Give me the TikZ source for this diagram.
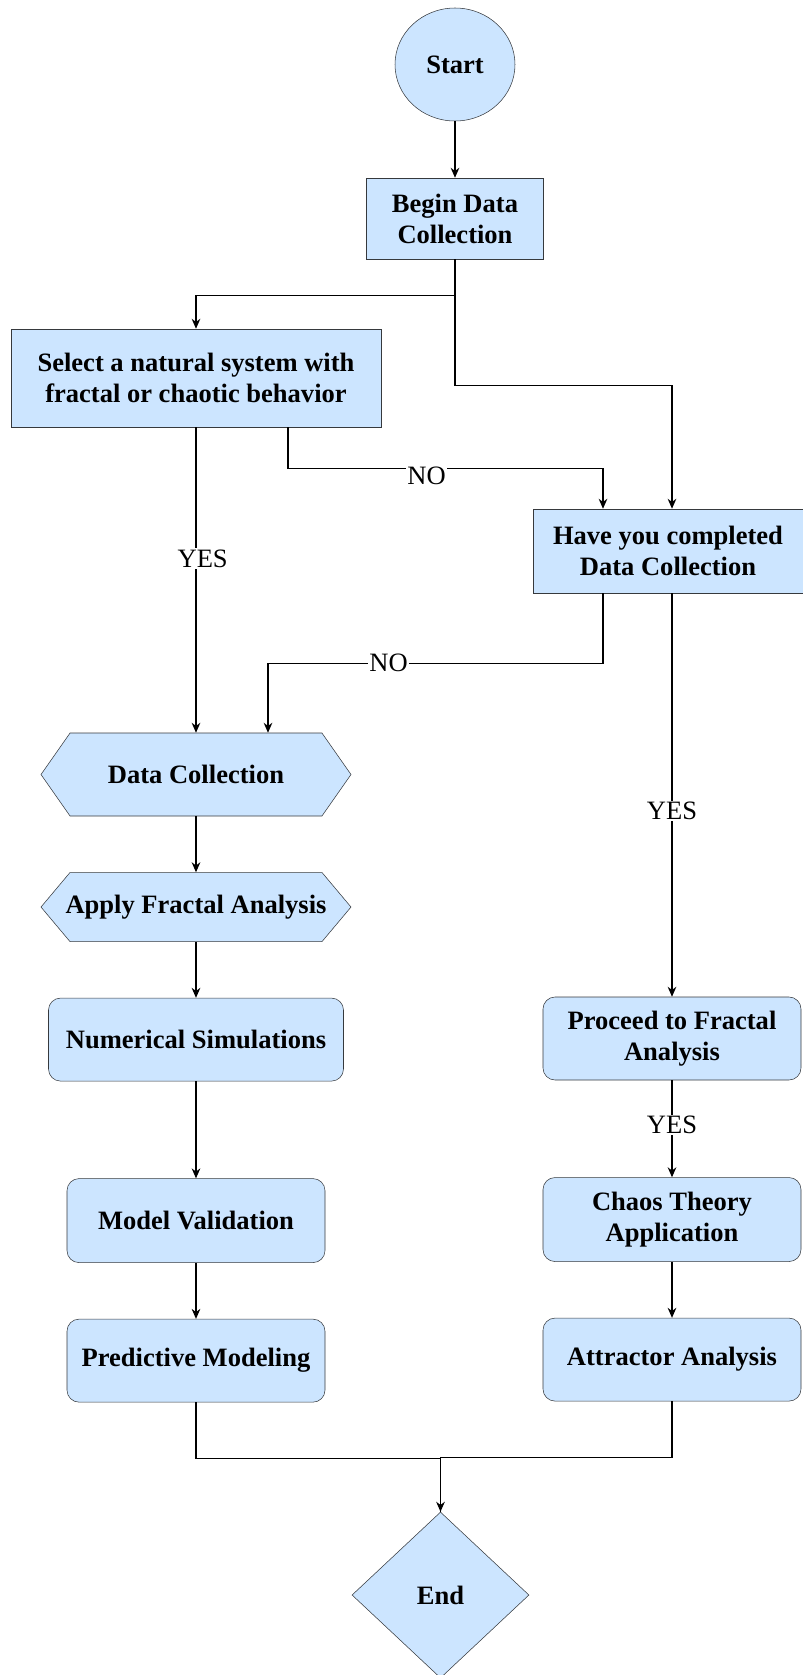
\documentclass[tikz,border=0pt]{standalone}
\usepackage{fontspec}
\setmainfont{Liberation Serif}
\usepackage{tikz}
\usetikzlibrary{arrows.meta,positioning,shapes.geometric,shapes.symbols}
\definecolor{boxfill}{RGB}{204,229,255}
\definecolor{boxline}{RGB}{54,57,61}

\begin{document}
\begin{tikzpicture}[x=0.75pt,y=-0.75pt,node distance=42pt,
    every node/.style={font=\fontsize{19.9}{23.3}\selectfont},
    base/.style={draw=boxline,fill=boxfill,align=center,inner sep=2pt,
                 font=\fontsize{19.9}{23.3}\selectfont\bfseries},
    sqbox/.style={base,rectangle,minimum width=#1,minimum height=60.75pt},
    rbox/.style={base,rectangle,rounded corners=9pt,minimum width=#1,minimum height=62.25pt},
    hexa/.style={base,signal,signal to=west and east,minimum width=232.5pt},
    lbl/.style={fill=white,inner sep=1pt},
    arr/.style={-{Stealth[length=7.5pt,width=6.5pt]},line width=0.9pt}]
  \useasboundingbox (0,0) rectangle (803,1675);

  % top part
  \node[base,ellipse,minimum width=90pt,minimum height=84.75pt,inner sep=0pt] (start) at (455,64.5) {Start};
  \node[sqbox=132.75pt] (begin) at (455,218.5) {Begin Data\\Collection};
  \node[sqbox=277.5pt,minimum height=73.5pt] (sel) at (196,378) {Select a natural system with\\fractal or chaotic behavior};
  \node[sqbox=202.5pt,minimum height=63pt] (have) at (668,551) {Have you completed\\Data Collection};

  % left column
  \node[hexa,minimum height=62.25pt,signal pointer angle=110] (dc) at (196,774.5) {\makebox[0pt]{Data Collection}};
  \node[hexa,minimum height=51.75pt,signal pointer angle=100,below=of dc] (afa) {\makebox[0pt]{Apply Fractal Analysis}};
  \node[rbox=221.25pt,below=of afa] (num) {Numerical Simulations};
  \node[rbox=193.5pt,minimum height=63pt,below=72.75pt of num] (mv) {Model Validation};
  \node[rbox=193.5pt,below=of mv] (pm) {Predictive Modeling};

  % right column
  \node[rbox=193.5pt] (proc) at (672,1038.5) {Proceed to Fractal\\Analysis};
  \node[rbox=193.5pt,minimum height=63pt,below=72.75pt of proc] (chaos) {Chaos Theory\\Application};
  \node[rbox=193.5pt,below=of chaos] (attr) {Attractor Analysis};

  \node[base,diamond,minimum width=132.75pt,minimum height=124.5pt,inner sep=0pt] (end) at (440.5,1595) {End};

  % connectors
  \draw[arr] (start) -- (begin);
  \draw[arr] (begin.south) -- ++(0,36) -| (sel.north);
  \draw[arr] (begin.south) -- ++(0,126) -| ([xshift=3pt]have.north);
  \draw[arr] ([xshift=69pt]sel.south) -- ++(0,41)
       -| node[lbl,pos=0.22,yshift=-6pt]{NO} ([xshift=-48.75pt]have.north);
  \draw[arr] (sel.south) -- node[lbl,pos=0.43,xshift=5pt]{YES} (dc.north);
  \draw[arr] ([xshift=-48.75pt]have.south) -- ++(0,70)
       -| node[lbl,pos=0.32]{NO} ([xshift=54pt]dc.north);
  \draw[arr] ([xshift=3pt]have.south) -- node[lbl,pos=0.54]{YES} (proc.north);

  \draw[arr] (dc) -- (afa);
  \draw[arr] (afa) -- (num);
  \draw[arr] (num) -- (mv);
  \draw[arr] (mv) -- (pm);
  \draw[arr] (proc) -- node[lbl,pos=0.46]{YES} (chaos);
  \draw[arr] (chaos) -- (attr);

  \draw[line width=0.9pt] (attr.south) -- ++(0,56) -| (end.north);
  \draw[arr] (pm.south) -- ++(0,56) -| (end.north);
\end{tikzpicture}
\end{document}
